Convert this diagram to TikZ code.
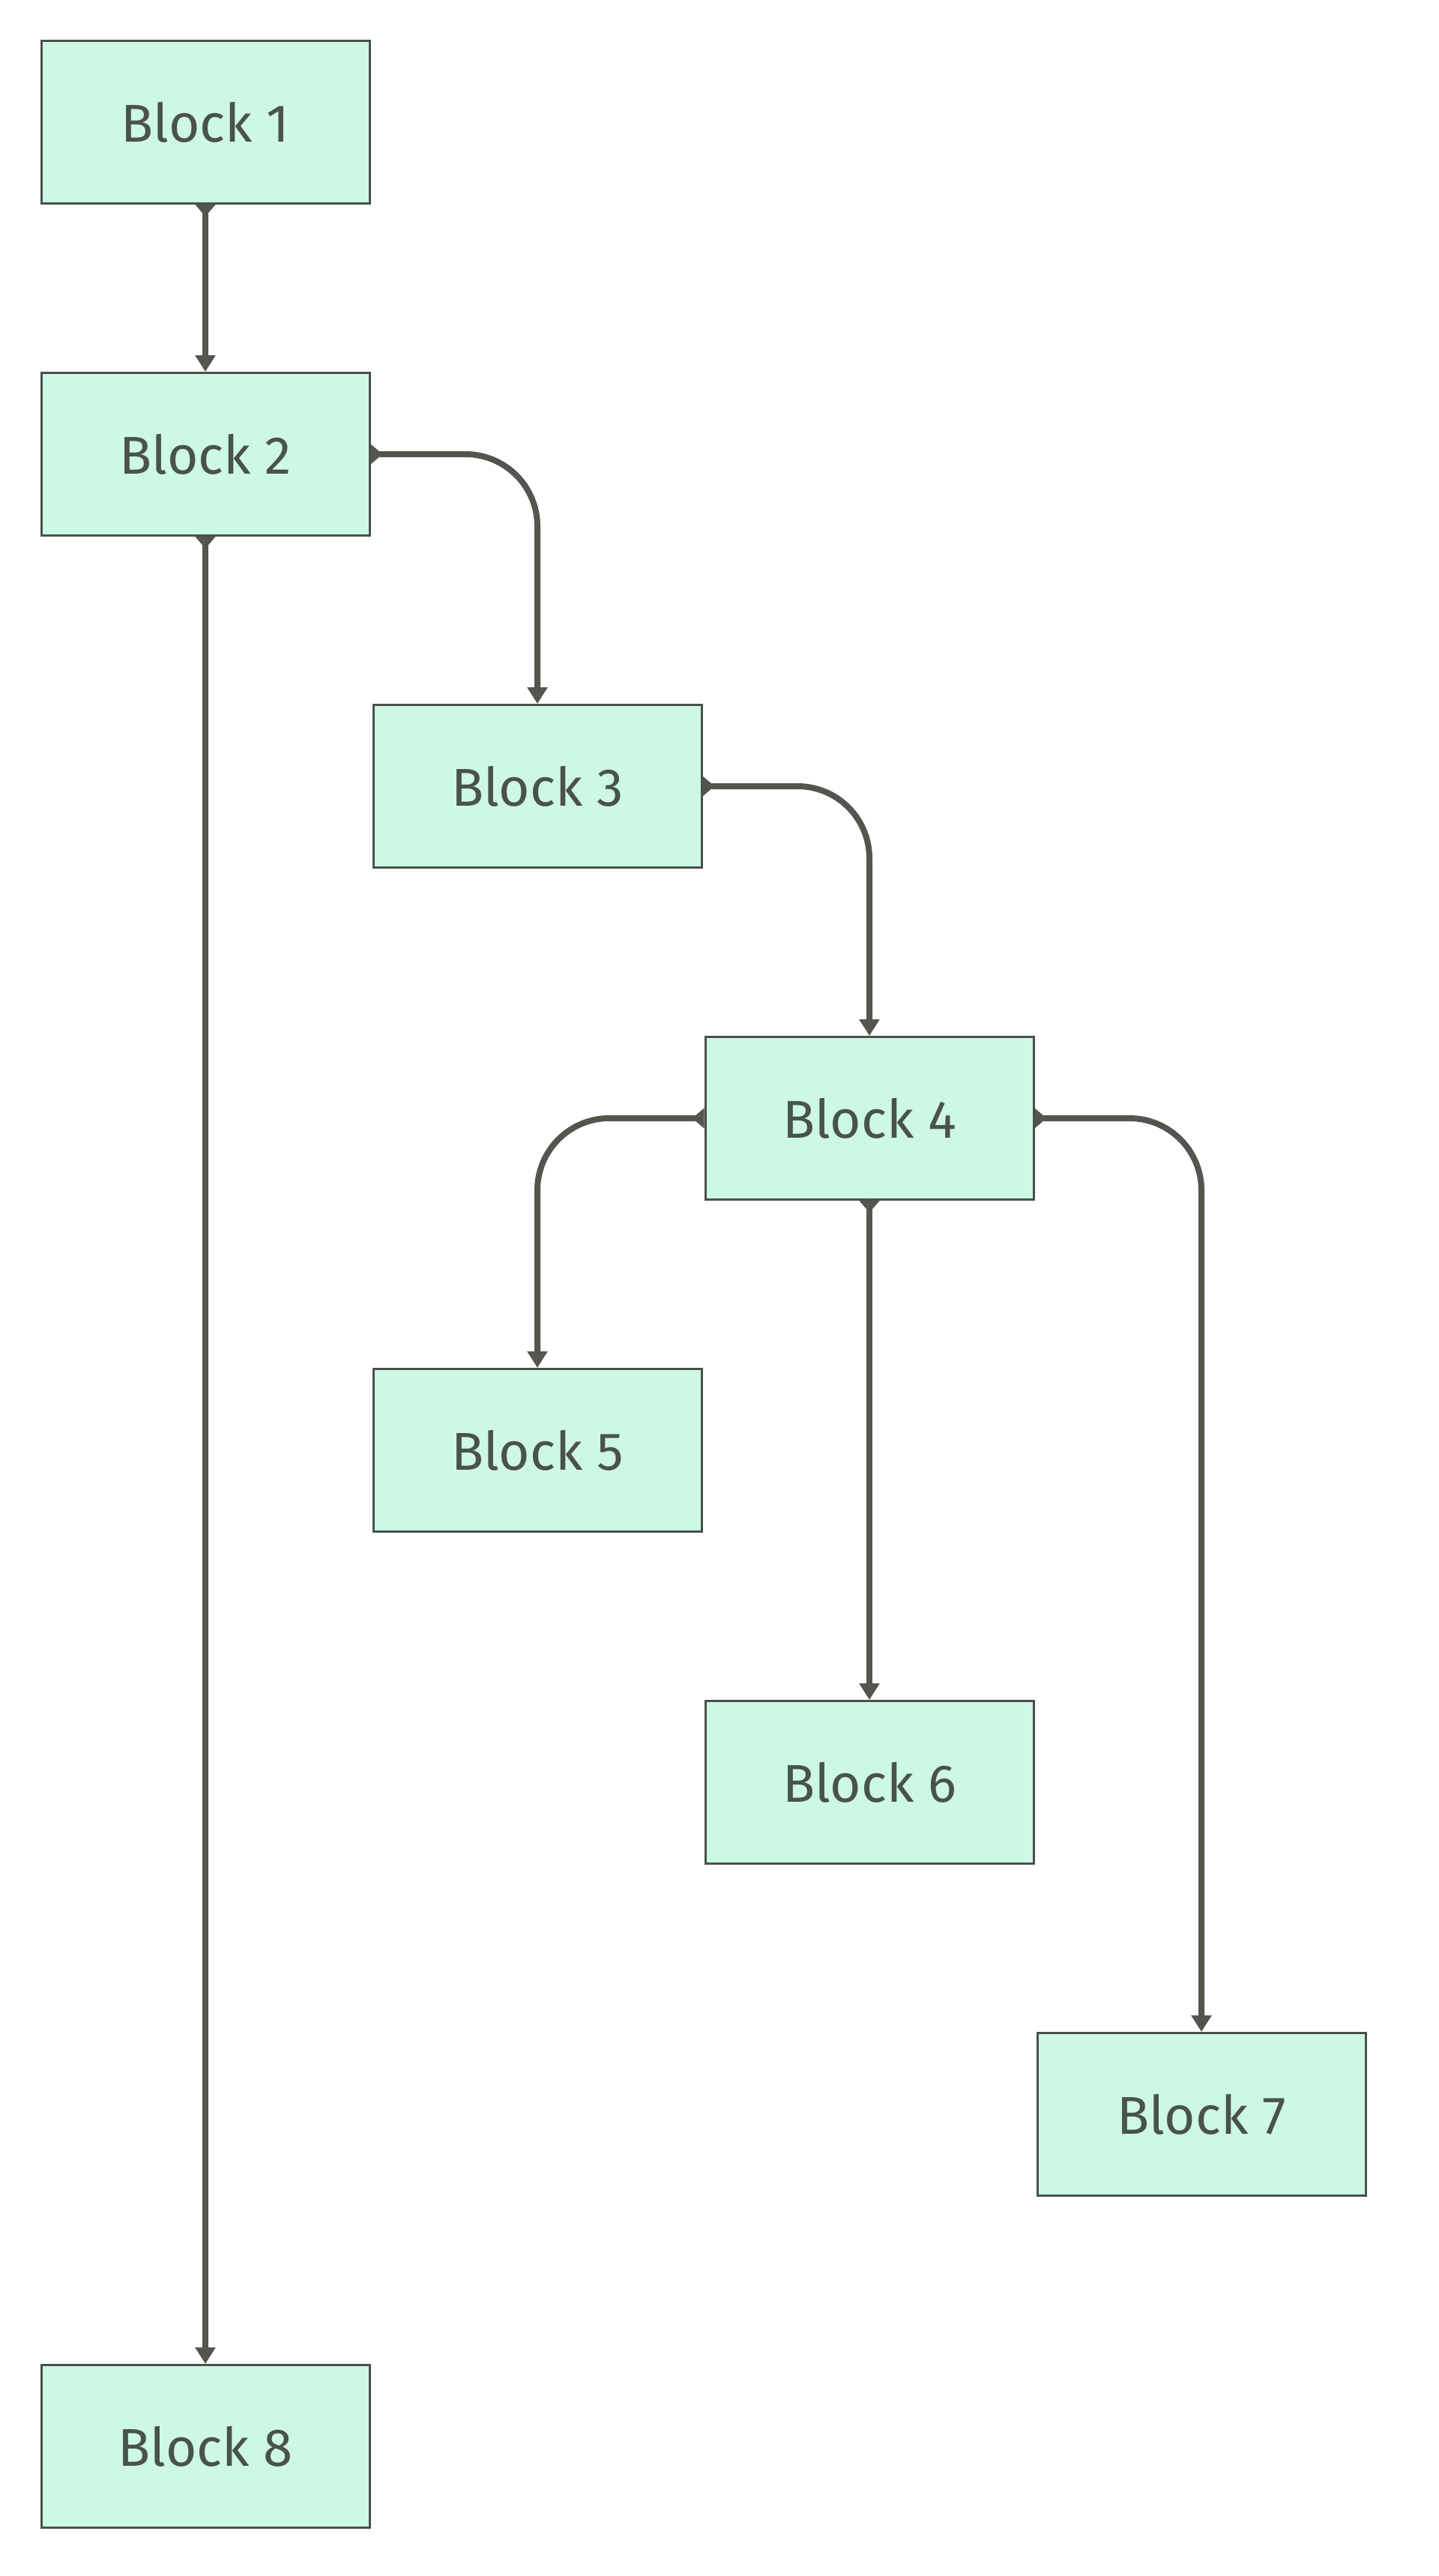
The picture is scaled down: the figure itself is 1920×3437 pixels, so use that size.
\documentclass[tikz,border=0pt]{standalone}
\usepackage{fontspec}
\setmainfont{Fira Sans}
\usetikzlibrary{arrows.meta}
\definecolor{boxfill}{HTML}{CDF8E4}
\definecolor{boxline}{HTML}{4A504B}
\definecolor{txt}{HTML}{4A524D}
\definecolor{conn}{HTML}{555550}
\tikzset{
  blk/.style={draw=boxline, line width=1.5pt, fill=boxfill, text=txt,
    minimum width=219pt, minimum height=108.5pt, inner sep=0pt,
    font=\fontsize{35.5}{40}\selectfont},
  link/.style={draw=conn, line width=4pt,
    {Triangle[reversed,width=13pt,length=8pt]}-{Triangle[width=13pt,length=11pt]}},
  curvedlink/.style={link, rounded corners=48pt}
}
\begin{document}
\begin{tikzpicture}[x=0.5pt,y=-0.5pt]
\path[use as bounding box, fill=white] (0,0) rectangle (1920,3437);
\node[blk] (b1) at (274,163) {Block 1};
\node[blk] (b2) at (274,606) {Block 2};
\node[blk] (b3) at (717,1049) {Block 3};
\node[blk] (b4) at (1160,1492) {Block 4};
\node[blk] (b5) at (717,1935) {Block 5};
\node[blk] (b6) at (1160,2378) {Block 6};
\node[blk] (b7) at (1603,2821) {Block 7};
\node[blk] (b8) at (274,3264) {Block 8};
\draw[link] (b1.south) -- (b2.north);
\draw[link] (b2.south) -- (b8.north);
\draw[curvedlink] (b2.east) -| (b3.north);
\draw[curvedlink] (b3.east) -| (b4.north);
\draw[curvedlink] (b4.west) -| (b5.north);
\draw[link] (b4.south) -- (b6.north);
\draw[curvedlink] (b4.east) -| (b7.north);
\end{tikzpicture}
\end{document}
